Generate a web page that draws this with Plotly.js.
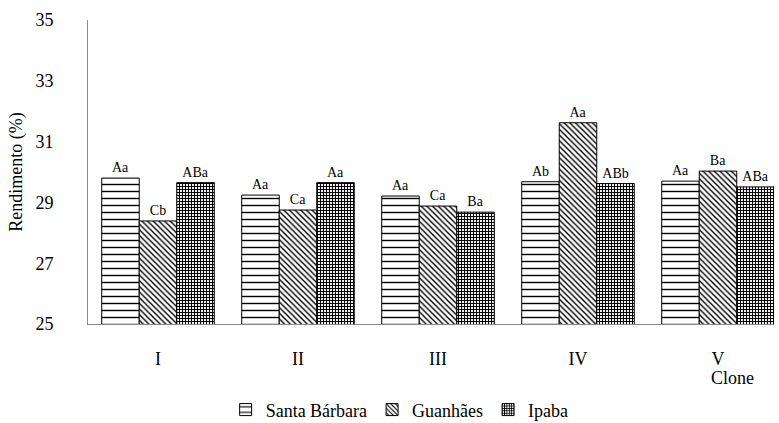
<!DOCTYPE html>
<html>
<head>
<meta charset="utf-8">
<script src="https://cdn.plot.ly/plotly-3.0.1.min.js"></script>
<style>html,body{margin:0;padding:0;background:#fff;}#chart text{font-family:"Liberation Serif","Times New Roman",serif !important;}</style>
</head>
<body>
<div id="chart"></div>
<script>
const clones = ["I", "II", "III", "IV", "V"];
const santaBarbara = [29.80, 29.24, 29.21, 29.68, 29.70];
const guanhaes = [28.39, 28.75, 28.88, 31.62, 30.03];
const ipaba = [29.65, 29.65, 28.68, 29.62, 29.51];
const santaBarbaraLetters = ["Aa", "Aa", "Aa", "Ab", "Aa"];
const guanhaesLetters = ["Cb", "Ca", "Ca", "Aa", "Ba"];
const ipabaLetters = ["ABa", "Aa", "Ba", "ABb", "ABa"];
const yTicks = [25, 27, 29, 31, 33, 35];

const serif = "Liberation Serif";
const barText = {family: serif, size: 14, color: "#000"};

function series(name, y, letters, pattern) {
  return {
    type: "bar", name: name, x: clones, y: y, text: letters,
    textposition: "outside", textfont: barText, cliponaxis: false,
    hoverinfo: "x+y",
    marker: {color: "#fff", line: {color: "#000", width: 1}, pattern: pattern}
  };
}

const data = [
  series("Santa Bárbara", santaBarbara, santaBarbaraLetters,
    {shape: "-", fgcolor: "#000", bgcolor: "#fff", size: 7, solidity: 0.2}),
  series("Guanhães", guanhaes, guanhaesLetters,
    {shape: "\\", fgcolor: "#000", bgcolor: "#fff", size: 4, solidity: 0.35}),
  series("Ipaba", ipaba, ipabaLetters,
    {shape: "+", fgcolor: "#000", bgcolor: "#fff", size: 3, solidity: 0.6})
];

const layout = {
  width: 779, height: 423,
  margin: {l: 88, r: 5, t: 20, b: 99},
  paper_bgcolor: "#fff", plot_bgcolor: "#fff",
  barmode: "group", bargap: 0.196, bargroupgap: 0,
  font: {family: serif, size: 18, color: "#000"},
  showlegend: true,
  legend: {orientation: "h", xref: "container", yref: "container",
    x: 0.513, xanchor: "center", y: 0.031, yanchor: "middle",
    font: {family: serif, size: 18, color: "#000"}, itemwidth: 30, traceorder: "normal"},
  xaxis: {
    type: "category", range: [-0.5, 4.4], showline: true, linecolor: "#898989", linewidth: 1,
    showgrid: false, zeroline: false, ticks: "outside", ticklen: 18, tickcolor: "rgba(0,0,0,0)",
    tickfont: {family: serif, size: 18, color: "#000"}
  },
  yaxis: {
    range: [25, 35], tickvals: yTicks, ticktext: yTicks.map(String),
    showline: true, linecolor: "#898989", linewidth: 1, showgrid: false, zeroline: false,
    ticks: "outside", ticklen: 30, tickcolor: "rgba(0,0,0,0)",
    tickfont: {family: serif, size: 18, color: "#000"},
    title: {text: "Rendimento (%)", font: {family: serif, size: 18, color: "#000"}, standoff: 8}
  },
  annotations: [{
    text: "Clone", xref: "paper", yref: "paper", x: 0.94, y: -0.178,
    xanchor: "center", yanchor: "middle", showarrow: false,
    font: {family: serif, size: 18, color: "#000"}
  }]
};

Plotly.newPlot("chart", data, layout, {displayModeBar: false}).then(function () {
  document.querySelectorAll("#chart text").forEach(function (t) {
    t.style.setProperty("font-family", '"Liberation Serif", "Times New Roman", serif', "important");
  });
});
</script>
</body>
</html>
